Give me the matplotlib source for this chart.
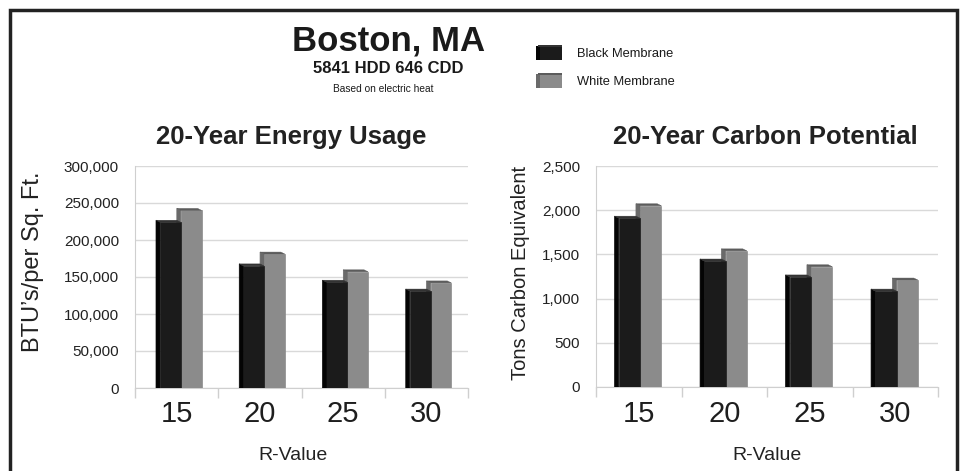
import matplotlib
matplotlib.use('Agg')
import matplotlib.pyplot as plt
from matplotlib.patches import Polygon, Rectangle
from matplotlib.ticker import FuncFormatter

plt.rcParams['font.family'] = ['Liberation Sans', 'DejaVu Sans']

# data
r_values = ['15', '20', '25', '30']
energy_black = [224000, 165000, 143000, 131000]
energy_white = [240000, 181000, 157000, 142000]
carbon_black = [1910, 1425, 1245, 1085]
carbon_white = [2050, 1540, 1360, 1210]
energy_ticks = [0, 50000, 100000, 150000, 200000, 250000, 300000]
carbon_ticks = [0, 500, 1000, 1500, 2000, 2500]

W, H = 966, 471
fig = plt.figure(figsize=(W / 100, H / 100), dpi=100)

BLACK = dict(front='#1b1b1b', side='#040404', top='#333333')
WHITE = dict(front='#8b8b8b', side='#6a6a6a', top='#5c5c5c')


def px_axes(x0, y0, x1, y1):
    return fig.add_axes([x0 / W, 1 - y1 / H, (x1 - x0) / W, (y1 - y0) / H])


def bars3d(ax, vals, offset, width, colors, dx, dy):
    xs = [i + offset for i in range(len(vals))]
    ax.bar(xs, vals, width=width, align='edge', color=colors['front'],
           edgecolor=colors['front'], linewidth=0.5, zorder=3)
    for x, v in zip(xs, vals):
        ax.add_patch(Polygon([(x - dx, 0), (x, 0), (x, v), (x - dx, v + dy)],
                             fc=colors['side'], ec=colors['side'], lw=0.5,
                             zorder=3))
        ax.add_patch(Polygon([(x - dx, v + dy), (x, v), (x + width, v),
                              (x + width - dx, v + dy)],
                             fc=colors['top'], ec=colors['top'], lw=0.3,
                             zorder=3))


def setup(ax, ticks, fmt, ymax, black, white, offset, ypx):
    dx = 4 / 84
    dy = 2 * ymax / ypx
    bars3d(ax, white, offset + 0.25, 0.25, WHITE, dx, dy)
    bars3d(ax, black, offset, 0.25, BLACK, dx, dy)
    ax.set_xlim(-0.5, 3.5)
    ax.set_ylim(0, ymax)
    ax.set_yticks(ticks)
    ax.yaxis.set_major_formatter(FuncFormatter(fmt))
    ax.grid(axis='y', color='#d9d9d9', linewidth=1)
    ax.set_axisbelow(True)
    for s in ['top', 'right']:
        ax.spines[s].set_visible(False)
    for s in ['left', 'bottom']:
        ax.spines[s].set_color('#cfcfcf')
    ax.tick_params(axis='y', length=0, pad=11.5, labelsize=11, labelcolor='#222222')
    ax.set_xticks(range(len(r_values)))
    ax.set_xticklabels(r_values)
    ax.set_xticks([-0.5, 0.5, 1.5, 2.5, 3.5], minor=True)
    ax.tick_params(axis='x', which='major', length=0, pad=9, labelsize=21,
                   labelcolor='#1e1e1e')
    ax.tick_params(axis='x', which='minor', length=7, width=1, color='#cfcfcf')
    ax.patch.set_alpha(0)


ax1 = px_axes(135, 166, 468, 388)
setup(ax1, energy_ticks, lambda v, p: f'{int(v):,}', 300000,
      energy_black, energy_white, -0.2, 222)

ax2 = px_axes(596, 166, 938, 387)
setup(ax2, carbon_ticks, lambda v, p: f'{int(v):,}', 2500,
      carbon_black, carbon_white, -0.235, 221)


def ftext(x, y, s, **kw):
    fig.text(x / W, 1 - y / H, s, **kw)


# headings
ftext(389, 50, 'Boston, MA', ha='center', va='baseline', fontsize=25,
      fontweight='bold', color='#1a1a1a')
ftext(388, 73, '5841 HDD 646 CDD', ha='center', va='baseline', fontsize=12,
      fontweight='bold', color='#1a1a1a')
ftext(383, 92, 'Based on electric heat', ha='center', va='baseline',
      fontsize=7.3, color='#1a1a1a')

ftext(291, 144, '20-Year Energy Usage', ha='center', va='baseline',
      fontsize=18.5, fontweight='bold', color='#222222')
ftext(765, 144, '20-Year Carbon Potential', ha='center', va='baseline',
      fontsize=18.5, fontweight='bold', color='#222222')

ftext(33, 262, "BTU’s/per Sq. Ft.", ha='center', va='center', rotation=90,
      fontsize=17, color='#222222')
ftext(520, 273, 'Tons Carbon Equivalent', ha='center', va='center',
      rotation=90, fontsize=14.5, color='#222222')

ftext(293, 455, 'R-Value', ha='center', va='center', fontsize=14,
      color='#222222')
ftext(767, 455, 'R-Value', ha='center', va='center', fontsize=14,
      color='#222222')

# legend
for (y0, colors, label) in [(45, BLACK, 'Black Membrane'),
                            (73, WHITE, 'White Membrane')]:
    fig.add_artist(Rectangle((540 / W, 1 - (y0 + 15) / H), 22 / W, 14 / H,
                             transform=fig.transFigure, fc=colors['front'],
                             ec='none'))
    fig.add_artist(Rectangle((536 / W, 1 - (y0 + 15) / H), 4 / W, 14 / H,
                             transform=fig.transFigure, fc=colors['side'],
                             ec='none'))
    fig.add_artist(Rectangle((538 / W, 1 - (y0 + 2) / H), 24 / W, 2 / H,
                             transform=fig.transFigure, fc=colors['top'],
                             ec='none'))
    ftext(577, y0 + 9, label, ha='left', va='center', fontsize=9.3,
          color='#1a1a1a')

# outer frame
fig.add_artist(Rectangle((10 / W, -0.05), 947 / W, 1.05 - 10 / H,
                         transform=fig.transFigure, fill=False,
                         ec='#222222', lw=2.5))

fig.savefig('out.png', dpi=100)
